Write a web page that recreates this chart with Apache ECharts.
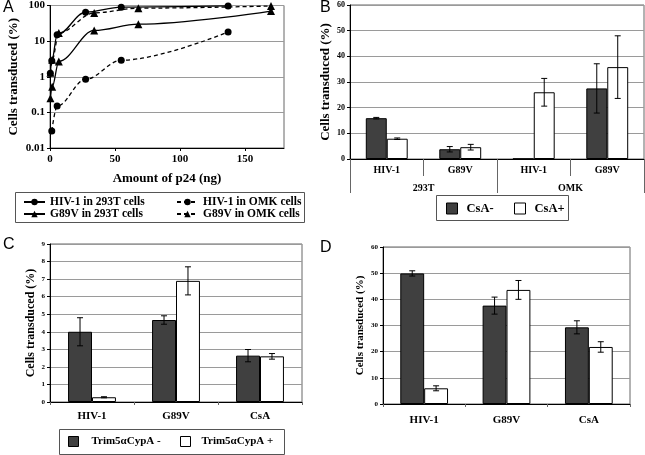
<!DOCTYPE html>
<html><head><meta charset="utf-8">
<script src="https://cdn.jsdelivr.net/npm/echarts@6/dist/echarts.min.js"></script>
<style>html,body{margin:0;padding:0;background:#fff}#c{width:645px;height:455px}</style>
</head><body><div id="c"></div><script>
// ---- Panel A data ----
const aHiv293 = [[0.27,1.26],[1.37,2.8],[5.5,15],[27.4,65],[54.8,90],[137,97]];
const aHivOmk = [[1.37,0.03],[5.5,0.15],[27.4,0.85],[54.8,2.9],[137,18]];
const aG89v293 = [[0.34,0.25],[1.7,0.52],[6.8,2.7],[34,20],[68,30],[170,70]];
const aG89vOmk = [[0.34,1.3],[1.7,3.0],[6.8,17],[34,62],[68,84],[170,97]];
const aNames = ['HIV-1 in 293T cells','HIV-1 in OMK cells','G89V in 293T cells','G89V in OMK cells'];
// ---- Panel B data ----
const bCats = ['HIV-1','G89V','HIV-1','G89V'];
const bGroups = ['293T','OMK'];
const bMinus = [15.9,3.8,0.1,27.5];
const bMinusErr = [0.3,1.05,0,9.6];
const bPlus = [7.9,4.6,26.0,35.8];
const bPlusErr = [0.3,1.1,5.4,12.2];
// ---- Panel C data ----
const cCats = ['HIV-1','G89V','CsA'];
const cMinus = [4.0,4.67,2.64];
const cMinusErr = [0.8,0.24,0.35];
const cPlus = [0.27,6.9,2.6];
const cPlusErr = [0.03,0.8,0.16];
// ---- Panel D data ----
const dCats = ['HIV-1','G89V','CsA'];
const dMinus = [49.9,37.6,29.3];
const dMinusErr = [1.0,3.25,2.5];
const dPlus = [6.0,43.6,21.8];
const dPlusErr = [0.95,3.6,2.0];

const SERIF = '"Liberation Serif", "Times New Roman", serif';
const SANS = '"Liberation Sans", Arial, sans-serif';
const DARK = '#404040';
const GRIDC = '#9a9a9a';
const chart = echarts.init(document.getElementById('c'), null, {renderer:'canvas'});

function errData(vals, errs, side){
  const out = [];
  vals.forEach((v,i)=>{ if (errs[i] > 0) out.push([i, v-errs[i], v+errs[i], side]); });
  return out;
}
function errSeries(idx, data, gapFrac){
  return {
    type:'custom', xAxisIndex:idx, yAxisIndex:idx, silent:true, z:10,
    encode:{x:0, y:[1,2]},
    data:data,
    renderItem:function(params, api){
      const cat = api.value(0), lo = api.value(1), hi = api.value(2), side = api.value(3);
      const p1 = api.coord([cat, lo]);
      const p2 = api.coord([cat, hi]);
      const band = api.size([1,0])[0];
      const bw = band*(1-gapFrac)/2;
      const x = p1[0] + side*bw/2;
      const cap = 3;
      const st = {stroke:'#000', lineWidth:1};
      return {type:'group', children:[
        {type:'line', shape:{x1:x,y1:p1[1],x2:x,y2:p2[1]}, style:st},
        {type:'line', shape:{x1:x-cap,y1:p1[1],x2:x+cap,y2:p1[1]}, style:st},
        {type:'line', shape:{x1:x-cap,y1:p2[1],x2:x+cap,y2:p2[1]}, style:st}
      ]};
    }
  };
}
function valAxisY(idx, max, interval, fs, name, nameFs, gap){
  return {
    type:'value', gridIndex:idx, min:0, max:max, interval:interval,
    axisLine:{show:true, lineStyle:{color:'#000', width:1}},
    axisTick:{show:true, length:3, lineStyle:{color:'#000'}},
    splitLine:{show:true, lineStyle:{color:GRIDC, width:1}},
    axisLabel:{fontFamily:SERIF, fontWeight:'bold', fontSize:fs, color:'#000', margin:5},
    name:name, nameLocation:'middle', nameGap:gap,
    nameTextStyle:{fontFamily:SERIF, fontWeight:'bold', fontSize:nameFs, color:'#000'}
  };
}
function catAxisX(idx, cats, fs, margin, tickLen){
  return {
    type:'category', gridIndex:idx, data:cats, position:'bottom',
    axisLine:{show:true, lineStyle:{color:'#000', width:1}},
    axisTick:{show:true, length:tickLen, alignWithLabel:false, lineStyle:{color:'#666'}},
    axisLabel:{fontFamily:SERIF, fontWeight:'bold', fontSize:fs, color:'#000', margin:margin, interval:0},
    splitLine:{show:false}
  };
}
function lineSeries(name, data, dashed, symbol, size){
  return {
    type:'line', name:name, xAxisIndex:0, yAxisIndex:0, data:data,
    smooth:0.35, smoothMonotone:'x',
    symbol:symbol, symbolSize:size, showSymbol:true,
    lineStyle:{color:'#000', width:1.3, type: dashed ? [4,3] : 'solid'},
    itemStyle:{color:'#000'}
  };
}
function barSeries(name, idx, data, color, gap){
  return {
    type:'bar', name:name, xAxisIndex:idx, yAxisIndex:idx, data:data,
    barGap:'0%', barCategoryGap:gap,
    itemStyle:{color:color, borderColor:'#000', borderWidth:1}
  };
}
function singleLegend(name, left, top, w, h, textPad, fs, icon){
  const l = {
    data:[name], left:left, top:top, padding:0, itemWidth:w, itemHeight:h,
    selectedMode:false,
    textStyle:{fontFamily:SERIF, fontWeight:'bold', fontSize:fs, color:'#000', padding:[0,0,0,textPad]}
  };
  if (icon) { l.icon = icon; l.itemStyle = {borderColor:'#000', borderWidth:1}; }
  return l;
}

const option = {
  animation:false,
  backgroundColor:'#fff',
  grid:[
    {left:50, top:3, width:234, height:145, show:true, borderColor:'#666', borderWidth:1, containLabel:false},
    {left:350, top:5, width:294, height:154, show:true, borderColor:'#666', borderWidth:1},
    {left:50, top:244, width:252, height:158, show:true, borderColor:'#666', borderWidth:1},
    {left:383, top:247, width:247, height:157, show:true, borderColor:'#666', borderWidth:1}
  ],
  xAxis:[
    {type:'value', gridIndex:0, min:0, max:180, interval:50,
     axisLine:{show:true, onZero:false, lineStyle:{color:'#000'}},
     axisTick:{show:true, length:3, lineStyle:{color:'#000'}},
     splitLine:{show:false},
     axisLabel:{fontFamily:SERIF, fontWeight:'bold', fontSize:11, color:'#000', margin:6, showMaxLabel:false},
     name:'Amount of p24 (ng)', nameLocation:'middle', nameGap:24,
     nameTextStyle:{fontFamily:SERIF, fontWeight:'bold', fontSize:13, color:'#000'}},
    catAxisX(1, bCats, 10, 6, 17),
    catAxisX(2, cCats, 11, 9, 3),
    catAxisX(3, dCats, 11, 11, 3),
    {type:'category', gridIndex:1, data:bGroups, position:'bottom',
     axisLine:{show:false}, axisTick:{show:true, length:34, lineStyle:{color:'#666'}},
     axisLabel:{fontFamily:SERIF, fontWeight:'bold', fontSize:10, color:'#000', margin:24},
     splitLine:{show:false}}
  ],
  yAxis:[
    {type:'log', gridIndex:0, logBase:10, min:0.01, max:100,
     axisLine:{show:true, onZero:false, lineStyle:{color:'#000'}},
     axisTick:{show:true, length:3, lineStyle:{color:'#000'}},
     splitLine:{show:true, lineStyle:{color:GRIDC}},
     minorTick:{show:false},
     axisLabel:{fontFamily:SERIF, fontWeight:'bold', fontSize:11, color:'#000', margin:5,
       formatter:function(v){ return String(+(+v).toPrecision(3)); }},
     name:'Cells transduced (%)', nameLocation:'middle', nameGap:30,
     nameTextStyle:{fontFamily:SERIF, fontWeight:'bold', fontSize:13, color:'#000'}},
    valAxisY(1, 60, 10, 8, 'Cells transduced (%)', 13, 18),
    valAxisY(2, 9, 1, 7, 'Cells transduced (%)', 12, 13),
    valAxisY(3, 60, 10, 7, 'Cells transduced (%)', 11, 17)
  ],
  legend:[
    singleLegend(aNames[0], 23, 196, 21, 8, 0, 11.5),
    singleLegend(aNames[1], 176, 196, 21, 8, 0, 11.5),
    singleLegend(aNames[2], 23, 208, 21, 8, 0, 11.5),
    singleLegend(aNames[3], 176, 208, 21, 8, 0, 11.5),
    singleLegend('CsA-', 446, 202, 11, 11, 4, 12.5, 'rect'),
    singleLegend('CsA+', 514, 202, 11, 11, 4, 12.5, 'rect'),
    singleLegend('Trim5\u03b1CypA -', 68, 436, 10, 10, 8, 11, 'rect'),
    singleLegend('Trim5\u03b1CypA +', 180, 436, 10, 10, 6, 11, 'rect')
  ],
  graphic:[
    {type:'rect', shape:{x:15.5, y:192.5, width:289, height:30}, style:{fill:'none', stroke:'#555', lineWidth:1}},
    {type:'rect', shape:{x:436.5, y:195.5, width:132, height:25}, style:{fill:'none', stroke:'#555', lineWidth:1}},
    {type:'rect', shape:{x:59.5, y:429.5, width:225, height:25}, style:{fill:'none', stroke:'#555', lineWidth:1}},
    {type:'text', left:3, top:0, style:{text:'A', font:'16px '+SANS, fill:'#000'}},
    {type:'text', left:320, top:0, style:{text:'B', font:'16px '+SANS, fill:'#000'}},
    {type:'text', left:3, top:237, style:{text:'C', font:'16px '+SANS, fill:'#000'}},
    {type:'text', left:320, top:240, style:{text:'D', font:'16px '+SANS, fill:'#000'}}
  ],
  series:[
    lineSeries(aNames[0], aHiv293, false, 'circle', 7),
    lineSeries(aNames[1], aHivOmk, true, 'circle', 7),
    lineSeries(aNames[2], aG89v293, false, 'triangle', 8),
    lineSeries(aNames[3], aG89vOmk, true, 'triangle', 8),
    barSeries('CsA-', 1, bMinus, DARK, '43%'),
    barSeries('CsA+', 1, bPlus, '#fff', '43%'),
    errSeries(1, errData(bMinus, bMinusErr, -1), 0.43),
    errSeries(1, errData(bPlus, bPlusErr, 1), 0.43),
    barSeries('Trim5\u03b1CypA -', 2, cMinus, DARK, '43%'),
    barSeries('Trim5\u03b1CypA +', 2, cPlus, '#fff', '43%'),
    errSeries(2, errData(cMinus, cMinusErr, -1), 0.43),
    errSeries(2, errData(cPlus, cPlusErr, 1), 0.43),
    barSeries('D minus', 3, dMinus, DARK, '42%'),
    barSeries('D plus', 3, dPlus, '#fff', '42%'),
    errSeries(3, errData(dMinus, dMinusErr, -1), 0.42),
    errSeries(3, errData(dPlus, dPlusErr, 1), 0.42)
  ]
};
chart.setOption(option);
</script></body></html>
